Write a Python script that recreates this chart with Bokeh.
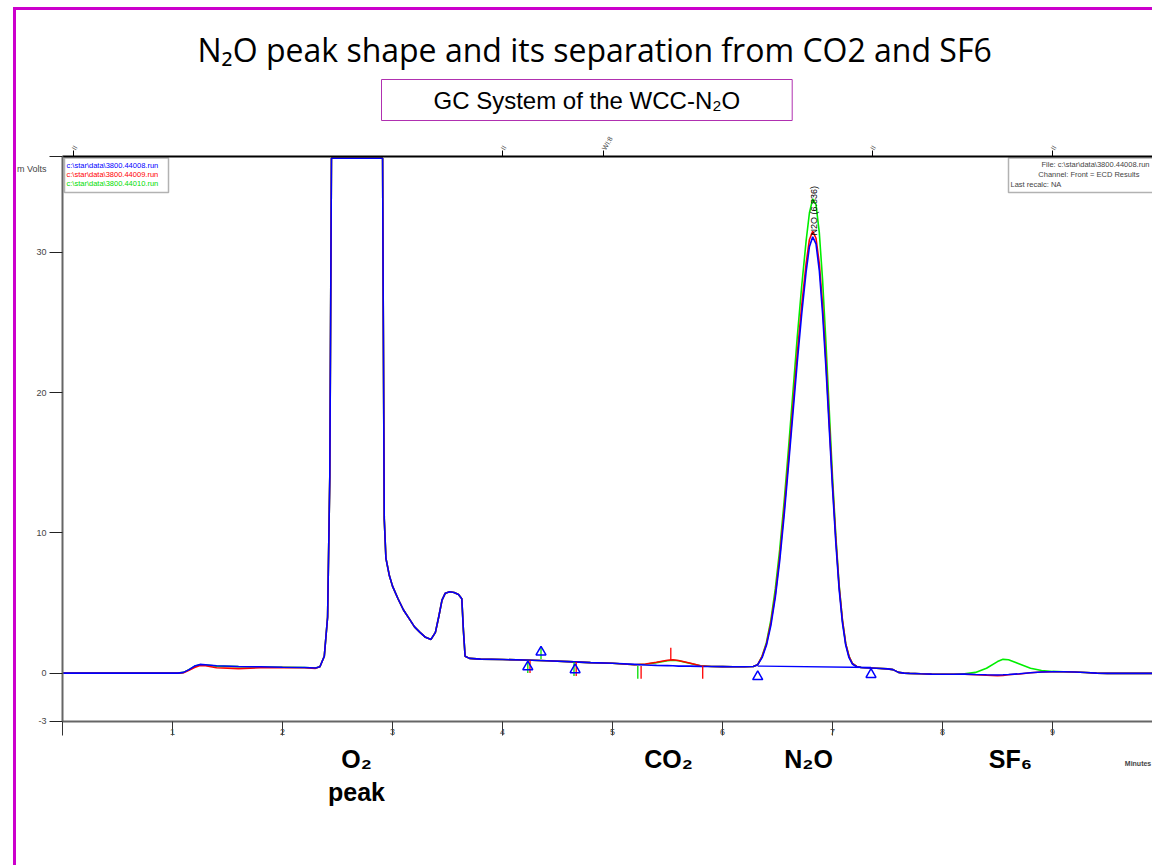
import math
from bokeh.plotting import figure
from bokeh.models import Range1d, LinearAxis, FixedTicker, Label, BoxAnnotation, Title
from bokeh.embed import file_html
from bokeh.resources import INLINE

# ---------------- data ----------------
time_min = [0.0, 0.5, 1.0, 1.05,
            1.10, 1.15, 1.20, 1.25, 1.30, 1.40, 1.60, 1.80, 2.00, 2.20, 2.30,
            2.34, 2.38, 2.41, 2.43, 2.445,
            2.91,
            2.915, 2.925, 2.94, 2.97, 3.00, 3.05, 3.10, 3.15, 3.20, 3.25, 3.30, 3.35,
            3.39, 3.42, 3.45, 3.48, 3.52, 3.56, 3.60, 3.63, 3.645, 3.66, 3.70,
            3.80, 4.00, 4.20, 4.40, 4.60, 4.80, 5.00, 5.20, 5.30, 5.40,
            5.50, 5.55, 5.60, 5.70, 5.80, 5.90, 6.00, 6.10, 6.20, 6.28,
            6.32, 6.36, 6.40, 6.44, 6.48, 6.52, 6.56, 6.60, 6.64, 6.68,
            6.72, 6.76, 6.79, 6.82, 6.85, 6.88, 6.91, 6.94, 6.97, 7.00,
            7.03, 7.06, 7.09, 7.12, 7.15, 7.18, 7.22, 7.26, 7.30,
            7.40, 7.50, 7.55, 7.60, 7.65, 7.70, 7.80, 7.90, 8.00, 8.10,
            8.20, 8.30, 8.40, 8.50, 8.55, 8.60, 8.70, 8.80, 8.90, 9.00,
            9.10, 9.20, 9.30, 9.40, 9.50, 9.60, 9.70, 9.80, 9.91]

blue_mv = [0, 0, 0, 0,
           0.05, 0.25, 0.50, 0.62, 0.60, 0.52, 0.47, 0.45, 0.42, 0.40, 0.36,
           0.45, 1.2, 4.0, 14.0, 36.7,
           36.7,
           27.5, 11.0, 8.2, 7.0, 6.2, 5.3, 4.5, 3.9, 3.3, 2.9, 2.55, 2.4,
           2.9, 4.0, 5.2, 5.7, 5.8, 5.75, 5.6, 5.3, 3.0, 1.2, 1.05,
           1.0, 0.97, 0.93, 0.88, 0.82, 0.75, 0.70, 0.62, 0.58, 0.55,
           0.53, 0.52, 0.50, 0.50, 0.48, 0.47, 0.46, 0.45, 0.45, 0.47,
           0.6, 1.1, 2.0, 3.4, 5.4, 8.0, 11.2, 14.8, 18.5, 22.2,
           25.6, 28.6, 30.4, 31.1, 30.6, 28.7, 25.6, 21.8, 17.5, 13.2,
           9.3, 6.0, 3.6, 2.0, 1.1, 0.65, 0.45, 0.40, 0.38,
           0.35, 0.30, 0.25, 0.05, 0.0, -0.02, -0.05, -0.07, -0.08, -0.08,
           -0.07, -0.10, -0.12, -0.13, -0.12, -0.10, -0.05, 0.02, 0.08, 0.10,
           0.10, 0.08, 0.04, 0.0, -0.02, -0.02, -0.02, -0.02, -0.02]

red_mv = [0, 0, 0, 0,
          0.03, 0.20, 0.40, 0.55, 0.52, 0.38, 0.32, 0.38, 0.40, 0.38, 0.34,
          0.45, 1.2, 4.0, 14.0, 36.7,
          36.7,
          27.5, 11.0, 8.2, 7.0, 6.2, 5.3, 4.5, 3.9, 3.3, 2.9, 2.55, 2.4,
          2.9, 4.0, 5.2, 5.7, 5.8, 5.75, 5.6, 5.3, 3.0, 1.2, 1.05,
          1.0, 0.97, 0.93, 0.88, 0.82, 0.75, 0.70, 0.60, 0.65, 0.78,
          0.92, 0.95, 0.90, 0.72, 0.52, 0.47, 0.46, 0.45, 0.45, 0.47,
          0.6, 1.2, 2.1, 3.6, 5.6, 8.3, 11.6, 15.2, 19.0, 22.8,
          26.2, 29.2, 30.9, 31.5, 31.0, 29.2, 26.2, 22.3, 17.9, 13.5,
          9.6, 6.2, 3.8, 2.1, 1.2, 0.70, 0.47, 0.40, 0.38,
          0.35, 0.30, 0.25, 0.05, 0.0, -0.02, -0.05, -0.07, -0.08, -0.08,
          -0.08, -0.12, -0.15, -0.18, -0.16, -0.12, -0.06, 0.02, 0.08, 0.10,
          0.10, 0.08, 0.04, 0.0, -0.02, -0.02, -0.02, -0.02, -0.02]

green_mv = [0, 0, 0, 0,
            0.05, 0.25, 0.48, 0.60, 0.58, 0.50, 0.46, 0.44, 0.42, 0.40, 0.36,
            0.45, 1.2, 4.0, 14.0, 36.7,
            36.7,
            27.5, 11.0, 8.2, 7.0, 6.2, 5.3, 4.5, 3.9, 3.3, 2.9, 2.55, 2.4,
            2.9, 4.0, 5.2, 5.7, 5.8, 5.75, 5.6, 5.3, 3.0, 1.2, 1.05,
            1.0, 0.97, 0.93, 0.88, 0.82, 0.75, 0.70, 0.60, 0.63, 0.75,
            0.88, 0.92, 0.88, 0.70, 0.52, 0.47, 0.46, 0.45, 0.45, 0.47,
            0.6, 1.2, 2.2, 3.8, 6.0, 8.8, 12.2, 16.0, 20.0, 24.0,
            27.6, 30.8, 32.8, 33.8, 33.4, 31.4, 28.0, 23.6, 18.8, 14.0,
            9.8, 6.3, 3.8, 2.1, 1.2, 0.70, 0.47, 0.40, 0.38,
            0.35, 0.30, 0.25, 0.05, 0.0, -0.02, -0.05, -0.07, -0.08, -0.08,
            -0.05, 0.05, 0.35, 0.82, 0.98, 0.95, 0.65, 0.35, 0.18, 0.12,
            0.10, 0.08, 0.04, 0.0, -0.02, -0.02, -0.02, -0.02, -0.02]

assert len(time_min) == len(blue_mv) == len(red_mv) == len(green_mv)

# integration baseline under the N2O peak
n2o_base_t = [6.32, 7.35]
n2o_base_mv = [0.50, 0.40]

# peak start / end markers
marker_t = [4.23, 4.35, 4.66, 6.32, 7.35]
marker_mv = [0.45, 1.5, 0.24, -0.25, -0.10]

# event tick marks
event_t = [4.23, 4.25, 4.35, 4.65, 4.67, 5.23, 5.26, 5.53, 5.82]
event_lo = [0.0, 0.0, 1.0, -0.2, -0.2, -0.4, -0.4, 0.9, -0.4]
event_hi = [0.9, 0.9, 1.9, 0.8, 0.8, 0.5, 0.5, 1.8, 0.5]
event_col = ["#00dd00", "#ff0000", "#00dd00", "#00dd00", "#ff0000",
             "#00dd00", "#ff0000", "#ff0000", "#ff0000"]

x_ticks = [0, 1, 2, 3, 4, 5, 6, 7, 8, 9]
y_ticks = [-3.44, 0, 10, 20, 30, 36.8]
y_tick_labels = {-3.44: "-3", 36.8: "\n\nm Volts"}
event_ticks = [0.1, 4.0, 4.92, 7.36, 9.0]
event_labels = ["II", "II", "WI:8", "II", "II"]

compound_pos = [2.673, 5.509, 6.782, 8.618]
compound_names = ["O\u2082\npeak", "CO\u2082", "N\u2082O", "SF\u2086"]

files = ["c:\\star\\data\\3800.44008.run",
         "c:\\star\\data\\3800.44009.run",
         "c:\\star\\data\\3800.44010.run"]
file_colors = ["#0000ff", "#ff0000", "#00dd00"]

MAG = "#cc00cc"
p = figure(width=1152, height=865,
           x_range=Range1d(0, 9.909), y_range=Range1d(-3.45, 36.83),
           output_backend="svg", toolbar_location=None,
           min_border_left=62, min_border_right=0,
           min_border_top=156, min_border_bottom=144,
           background_fill_color="white", border_fill_color=None,
           outline_line_color=None)
p.xgrid.visible = False
p.ygrid.visible = False
# magenta page frame (left and top edges) drawn behind the transparent canvas border
p.styles = {
    "background-image": f"linear-gradient({MAG}, {MAG}), linear-gradient({MAG}, {MAG})",
    "background-size": "3px 900px, 1200px 3px",
    "background-position": "13px 7px, 13px 7px",
    "background-repeat": "no-repeat",
}

AX_FONT = "Liberation Sans"

xa = p.xaxis[0]
xa.ticker = FixedTicker(ticks=x_ticks)
xa.major_label_overrides = {0: ""}
xa.axis_line_color = "#666666"
xa.axis_line_width = 2
xa.major_tick_line_color = "#333333"
xa.major_tick_out = 14
xa.major_tick_in = 0
xa.minor_tick_line_color = None
xa.major_label_text_font = AX_FONT
xa.major_label_text_font_size = "9px"
xa.major_label_text_align = "left"
xa.major_label_standoff = -7

ya = p.yaxis[0]
ya.ticker = FixedTicker(ticks=y_ticks)
ya.major_label_overrides = y_tick_labels
ya.axis_line_color = "#666666"
ya.axis_line_width = 2
ya.major_tick_line_color = "#222222"
ya.major_tick_out = 13
ya.major_tick_in = 0
ya.minor_tick_line_color = None
ya.major_label_text_font = AX_FONT
ya.major_label_text_font_size = "9px"
ya.major_label_standoff = 3

# compound names under the time axis
cax = LinearAxis(ticker=FixedTicker(ticks=compound_pos),
                 major_label_overrides=dict(zip(compound_pos, compound_names)))
cax.axis_line_color = None
cax.major_tick_line_color = None
cax.minor_tick_line_color = None
cax.major_label_text_font = "Liberation Sans"
cax.major_label_text_font_size = "25px"
cax.major_label_text_font_style = "bold"
cax.major_label_text_color = "black"
cax.major_label_standoff = 1
p.add_layout(cax, "below")

# "Minutes" caption at the right end of the time axis
max_ = LinearAxis(ticker=FixedTicker(ticks=[9.8]), major_label_overrides={9.8: "Minutes"})
max_.axis_line_color = None
max_.major_tick_line_color = None
max_.minor_tick_line_color = None
max_.major_label_text_font = AX_FONT
max_.major_label_text_font_size = "7px"
max_.major_label_text_font_style = "bold"
max_.major_label_standoff = -56
p.add_layout(max_, "below")

# event axis on top
top = LinearAxis(ticker=FixedTicker(ticks=event_ticks),
                 major_label_overrides=dict(zip(event_ticks, event_labels)))
top.axis_line_color = "black"
top.axis_line_width = 2
top.major_tick_line_color = "black"
top.major_tick_out = 6
top.major_tick_in = 0
top.minor_tick_line_color = None
top.major_label_text_font = AX_FONT
top.major_label_text_font_size = "7px"
top.major_label_orientation = math.pi / 3
top.major_label_standoff = 1
p.add_layout(top, "above")

# subtitle (boxed) and title
p.add_layout(Title(text="GC System of the WCC-N\u2082O", align="left", offset=319,
                   text_font="Liberation Sans", text_font_size="24px",
                   text_font_style="normal", text_color="black",
                   border_line_color="#b030b0", border_line_width=1,
                   padding=(52, 7), standoff=20), "above")
p.add_layout(Title(text="N\u2082O peak shape and its separation from CO2 and SF6",
                   align="left", offset=135,
                   text_font="Open Sans", text_font_size="32px",
                   text_font_style="normal", text_color="black", standoff=-7), "above")

# ---------------- traces ----------------
p.line(time_min, green_mv, line_color="#00ee00", line_width=1.6)
p.line(time_min, red_mv, line_color="#ff0000", line_width=1.6)
p.line(time_min, blue_mv, line_color="#0000ff", line_width=1.6)
p.line(n2o_base_t, n2o_base_mv, line_color="#0000ff", line_width=1.4)
p.segment(x0=event_t, y0=event_lo, x1=event_t, y1=event_hi,
          line_color=event_col, line_width=1.3)
p.scatter(marker_t, marker_mv, marker="triangle", size=10,
          line_color="#0000ff", fill_color=None, line_width=1.5)


# ---------------- in-frame annotations (canvas pixel units) ----------------
def clabel(X, Y, text, **kw):
    p.add_layout(Label(x=X, y=Y, x_units="canvas", y_units="canvas", text=text, **kw))


def cbox(L, R, T, B, **kw):
    p.add_layout(BoxAnnotation(left=L, right=R, top=T, bottom=B,
                               left_units="canvas", right_units="canvas",
                               top_units="canvas", bottom_units="canvas", **kw))


# file legend box (top-left)
cbox(64, 168, 157.5, 192, fill_color="white", fill_alpha=1, line_color="black", line_width=1.5)
for i, (f, c) in enumerate(zip(files, file_colors)):
    clabel(66, 165 + 9 * i, f, text_align="left", text_baseline="middle",
           text_font=AX_FONT, text_font_size="7.5px", text_color=c)

# info box (top-right)
cbox(1008, 1180, 157.5, 192, fill_color="white", fill_alpha=1, line_color="black", line_width=1.5)
clabel(1149, 164, "File: " + files[0], text_align="right", text_baseline="middle",
       text_font=AX_FONT, text_font_size="7.5px")
clabel(1141, 174, "Channel: Front = ECD  Results", text_align="right", text_baseline="middle",
       text_font=AX_FONT, text_font_size="7.5px")
clabel(1010, 184, "Last recalc: NA", text_align="left", text_baseline="middle",
       text_font=AX_FONT, text_font_size="7.5px")

# peak label
p.add_layout(Label(x=6.83, y=31.2, text="N2O (6.836)", angle=math.pi / 2,
                   text_align="left", text_baseline="middle",
                   text_font=AX_FONT, text_font_size="9px", text_color="black"))

open("out.html", "w").write(file_html(p, INLINE))
